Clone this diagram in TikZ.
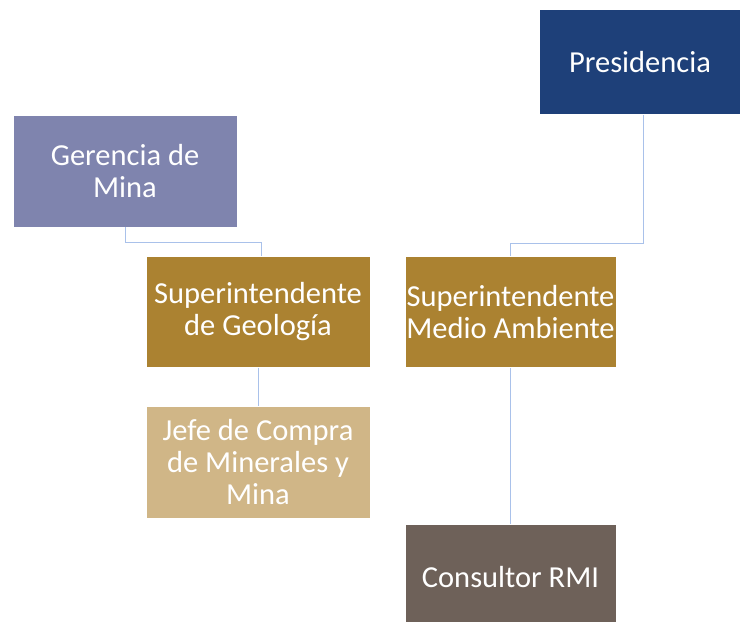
\documentclass[tikz,border=0pt]{standalone}
\usepackage{fontspec}
\setmainfont{Carlito}
\usetikzlibrary{positioning}

\definecolor{presblue}{HTML}{1E4079}
\definecolor{gerlila}{HTML}{7F84AE}
\definecolor{supocre}{HTML}{AB8231}
\definecolor{jefetan}{HTML}{D0B687}
\definecolor{consbrown}{HTML}{6E6159}
\definecolor{linkblue}{HTML}{A9C1EA}

\begin{document}
\begin{tikzpicture}[x=1pt, y=-1pt,
  box/.style={rectangle, draw=white, line width=0.6pt, text=white, align=center,
    inner sep=1pt, font=\fontsize{30.5}{32}\selectfont},
  link/.style={draw=linkblue, line width=1pt}]
\useasboundingbox (0,0) rectangle (740,622);

\node[box, fill=presblue, minimum width=202pt, minimum height=105pt](Pres) at (640,62) {Presidencia};
\node[box, fill=gerlila, minimum width=224pt, minimum height=112pt](Ger) at (125,171) {Gerencia de\\Mina};
\node[box, fill=supocre, minimum width=224pt, minimum height=111pt](SupGeo) at (258,312) {Superintendente\\de Geología};
\node[box, fill=supocre, minimum width=211pt, minimum height=111pt](SupMA) at (510.5,312) {Superintendente\\Medio Ambiente};
\node[box, fill=jefetan, minimum width=224pt, minimum height=112pt](Jefe) at (258,462) {Jefe de Compra\\de Minerales y\\Mina};
\node[box, fill=consbrown, minimum width=211pt, minimum height=106pt](Cons) at (510.5,577) {Consultor RMI};

\draw[link] (Ger.south) -- ++(0,15) -| ([xshift=3pt]SupGeo.north);
\draw[link] ([xshift=3pt]Pres.south) -- ++(0,129) -| (SupMA.north);
\draw[link] (SupGeo.south) -- (Jefe.north);
\draw[link] (SupMA.south) -- (Cons.north);
\end{tikzpicture}
\end{document}
